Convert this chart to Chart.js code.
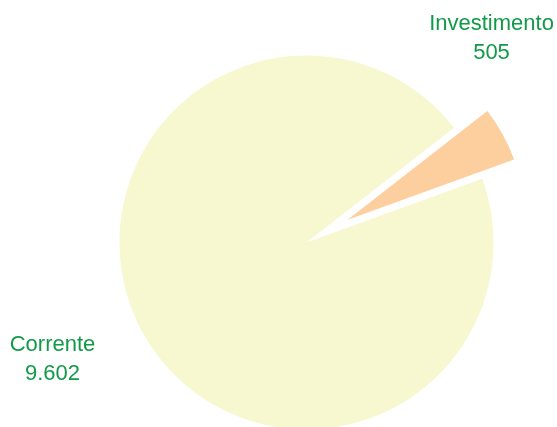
<!DOCTYPE html>
<html lang="pt">
<head>
    <meta charset="UTF-8">
    <title>Despesa</title>
    <script src="https://cdn.jsdelivr.net/npm/chart.js"></script>
    <style>
        body {
            margin: 0;
            padding: 0;
            background: #fff;
        }
        canvas {
            display: block;
        }
    </style>
</head>
<body>
    <canvas id="pieChart" width="557" height="427"></canvas>
    <script>
        const categories = ['Corrente', 'Investimento'];
        const values = [9602, 505];
        const valueLabels = ['9.602', '505'];

        const sliceColors = ['#f7f7d0', '#fdcf9e'];
        const labelColor = '#119a48';

        // exploded slice: index, distance moved out, radius reduction
        const explodeIndex = 1;
        const explodeDist = 47;
        const explodeShrink = 10;

        // label placement relative to pie centre
        const labelShift = [[-254, 115], [185, -206]];

        const explodePlugin = {
            id: 'explode',
            afterDatasetsUpdate(chart) {
                const arc = chart.getDatasetMeta(0).data[explodeIndex];
                const mid = (arc.startAngle + arc.endAngle) / 2;
                arc.x += Math.cos(mid) * explodeDist;
                arc.y += Math.sin(mid) * explodeDist;
                arc.outerRadius -= explodeShrink;
            }
        };

        const labelPlugin = {
            id: 'pieLabels',
            afterDatasetsDraw(chart) {
                const ctx = chart.ctx;
                const area = chart.chartArea;
                const cx = (area.left + area.right) / 2;
                const cy = (area.top + area.bottom) / 2;
                ctx.save();
                ctx.font = '22px "Liberation Sans", Arial, sans-serif';
                ctx.fillStyle = labelColor;
                ctx.textAlign = 'center';
                ctx.textBaseline = 'alphabetic';
                categories.forEach((name, i) => {
                    const x = cx + labelShift[i][0];
                    const y = cy + labelShift[i][1];
                    ctx.fillText(name, x, y - 7);
                    ctx.fillText(valueLabels[i], x, y + 22);
                });
                ctx.restore();
            }
        };

        const ctx = document.getElementById('pieChart').getContext('2d');
        new Chart(ctx, {
            type: 'pie',
            data: {
                labels: categories,
                datasets: [{
                    data: values,
                    backgroundColor: sliceColors,
                    borderWidth: 0
                }]
            },
            options: {
                responsive: false,
                animation: false,
                rotation: 70.1,
                radius: 187,
                layout: {
                    padding: { left: 60, right: 4, top: 58, bottom: 0 }
                },
                plugins: {
                    legend: { display: false },
                    tooltip: { enabled: false }
                },
                events: []
            },
            plugins: [explodePlugin, labelPlugin]
        });
    </script>
</body>
</html>
